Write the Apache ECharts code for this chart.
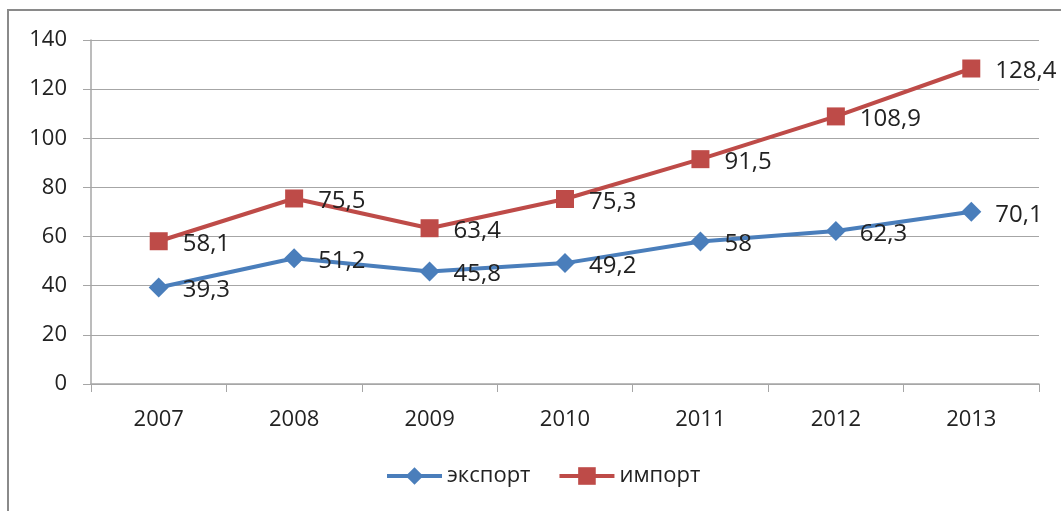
<!DOCTYPE html>
<html><head><meta charset="utf-8">
<script src="https://cdn.jsdelivr.net/npm/echarts@6/dist/echarts.min.js"></script>
<style>
html,body{margin:0;padding:0;background:#fff;overflow:hidden;}
#c{width:1061px;height:511px;position:absolute;left:0;top:0;}
#b{position:absolute;left:7px;top:9px;width:1100px;height:600px;border:2.5px solid #8a8a8a;box-sizing:border-box;pointer-events:none;}
</style></head>
<body><div id="c"></div><div id="b"></div>
<script>
const categories = ['2007','2008','2009','2010','2011','2012','2013'];
const exportValues = [39.3, 51.2, 45.8, 49.2, 58, 62.3, 70.1];
const importValues = [58.1, 75.5, 63.4, 75.3, 91.5, 108.9, 128.4];
const seriesNames = ['экспорт','импорт'];

const chart = echarts.init(document.getElementById('c'));
const font = '"Open Sans", "Liberation Sans", sans-serif';
const fmt = p => String(p.value).replace('.', ',');
chart.setOption({
  animation:false,
  textStyle:{fontFamily:font},
  grid:{left:91,right:22,top:40,bottom:127},
  legend:{
    top:460,left:380,itemWidth:55,itemHeight:22,itemGap:27,
    lineStyle:{width:4},
    textStyle:{fontSize:22,color:'#222',fontFamily:font},
    data:seriesNames
  },
  xAxis:{
    type:'category',data:categories,boundaryGap:true,
    axisLine:{lineStyle:{color:'#a6a6a6',width:1.5}},
    axisTick:{show:true,length:8,lineStyle:{color:'#a6a6a6'}},
    axisLabel:{fontSize:22,color:'#222',margin:25,fontFamily:font}
  },
  yAxis:{
    type:'value',min:0,max:140,interval:20,
    axisLine:{show:true,lineStyle:{color:'#a6a6a6',width:1.5}},
    axisTick:{show:true,length:8,lineStyle:{color:'#a6a6a6'}},
    axisLabel:{fontSize:22,color:'#222',margin:24,fontFamily:font},
    splitLine:{lineStyle:{color:'#a6a6a6',width:1.2}}
  },
  series:[
    {name:seriesNames[0],type:'line',data:exportValues,symbol:'diamond',symbolSize:20,
     lineStyle:{color:'#4a7ebb',width:4},itemStyle:{color:'#4a7ebb'},
     label:{show:true,position:'right',distance:14,offset:[0,3],fontSize:24,color:'#222',fontFamily:font,formatter:fmt}},
    {name:seriesNames[1],type:'line',data:importValues,symbol:'rect',symbolSize:18,
     lineStyle:{color:'#be4b48',width:4},itemStyle:{color:'#be4b48'},
     label:{show:true,position:'right',distance:15,offset:[0,3],fontSize:24,color:'#222',fontFamily:font,formatter:fmt}}
  ]
});
</script></body></html>
